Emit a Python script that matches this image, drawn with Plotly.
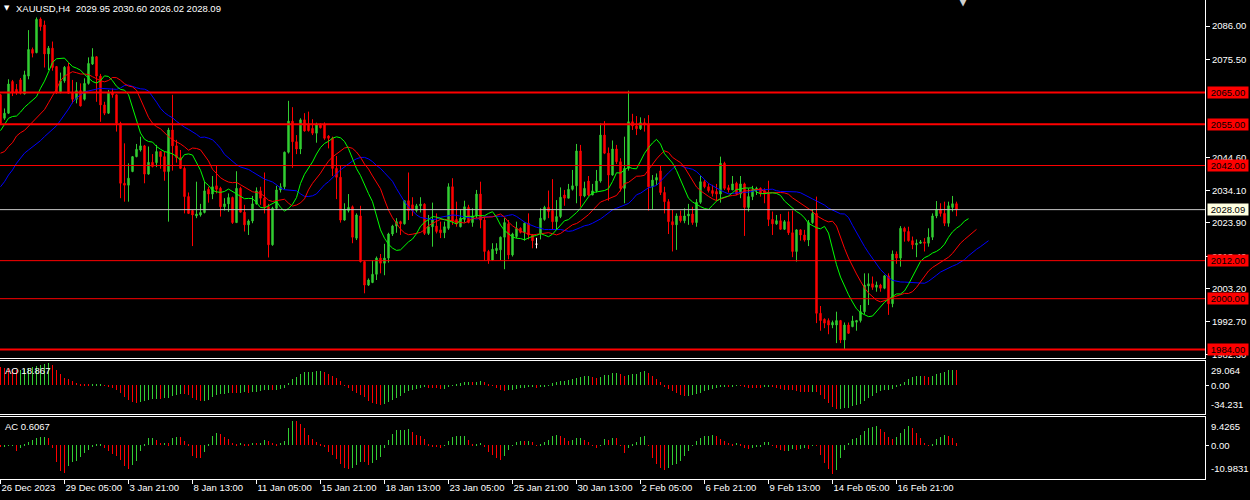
import numpy as np
import pandas as pd
import plotly.graph_objects as go

# ---------------- data ----------------
opens = [2064.3, 2056.9, 2058.5, 2068.5, 2066.0, 2069.0, 2064.6, 2070.2, 2078.6, 2077.6,
         2088.2, 2086.3, 2077.2, 2079.0, 2073.2, 2065.0, 2068.7, 2073.2, 2065.0, 2062.9,
         2065.6, 2062.9, 2067.9, 2074.0, 2076.3, 2070.2, 2061.1, 2058.5, 2065.0, 2064.3,
         2055.3, 2036.4, 2035.8, 2040.1, 2044.8, 2046.9, 2048.2, 2039.3, 2043.0, 2042.9,
         2046.4, 2044.8, 2040.1, 2053.2, 2048.2, 2044.5, 2041.1, 2032.2, 2027.8, 2026.1,
         2026.4, 2027.2, 2034.5, 2033.0, 2035.6, 2034.8, 2029.0, 2029.9, 2031.9, 2024.0,
         2034.8, 2027.3, 2023.3, 2024.5, 2029.9, 2034.0, 2031.7, 2029.0, 2017.0, 2028.5,
         2034.3, 2035.3, 2046.2, 2056.0, 2049.5, 2047.2, 2056.4, 2055.1, 2053.7, 2052.2,
         2055.0, 2054.8, 2051.3, 2050.6, 2041.1, 2038.3, 2024.8, 2027.8, 2029.0, 2019.1,
         2026.1, 2011.7, 2004.3, 2005.1, 2007.7, 2012.8, 2011.2, 2012.8, 2020.4, 2022.9,
         2024.3, 2023.6, 2030.9, 2029.6, 2027.8, 2029.3, 2029.8, 2020.6, 2022.7, 2022.9,
         2021.7, 2020.8, 2022.2, 2035.3, 2025.0, 2022.7, 2025.0, 2028.8, 2024.0, 2026.1,
         2033.0, 2024.8, 2014.9, 2012.2, 2015.2, 2015.4, 2019.4, 2023.6, 2013.8, 2019.6,
         2022.2, 2020.9, 2023.8, 2020.1, 2017.2, 2020.6, 2025.0, 2028.8, 2027.8, 2024.3,
         2025.9, 2032.7, 2031.7, 2034.5, 2035.6, 2046.6, 2032.4, 2037.1, 2032.7, 2034.0,
         2037.1, 2051.6, 2045.9, 2039.0, 2047.2, 2043.2, 2034.8, 2041.1, 2055.8, 2054.5,
         2053.6, 2055.5, 2054.8, 2035.3, 2037.4, 2040.3, 2033.5, 2030.6, 2024.3, 2023.3,
         2026.1, 2024.6, 2026.1, 2026.7, 2024.0, 2030.4, 2036.9, 2035.3, 2034.1, 2033.8,
         2033.0, 2042.7, 2035.0, 2034.3, 2036.4, 2033.0, 2036.2, 2028.8, 2032.2, 2034.3,
         2034.8, 2034.1, 2033.0, 2025.0, 2023.6, 2024.6, 2021.9, 2024.3, 2020.8, 2014.9,
         2021.7, 2020.1, 2018.5, 2024.0, 2026.9, 1995.4, 1993.5, 1993.1, 1991.7, 1991.7,
         1993.1, 1987.0, 1991.7, 1991.2, 1992.6, 1993.1, 1995.9, 2004.0, 2004.7, 2003.6,
         2004.3, 2003.3, 2007.2, 1998.4, 2014.1, 2012.8, 2022.2, 2021.2, 2018.3, 2017.0,
         2017.5, 2017.9, 2017.5, 2019.4, 2026.1, 2028.2, 2026.9, 2023.8, 2028.8, 2029.95]
highs = [2064.6, 2060.0, 2069.2, 2069.0, 2067.7, 2069.6, 2071.9, 2084.7, 2079.2, 2088.7,
         2088.7, 2087.7, 2079.7, 2081.1, 2073.4, 2071.3, 2073.4, 2074.4, 2069.0, 2068.3,
         2067.9, 2069.5, 2076.1, 2079.0, 2076.5, 2070.9, 2062.1, 2065.8, 2066.3, 2064.5,
         2055.8, 2049.0, 2042.7, 2045.0, 2048.8, 2051.1, 2048.5, 2048.0, 2045.6, 2048.5,
         2046.6, 2046.4, 2053.9, 2064.3, 2050.1, 2046.9, 2041.7, 2033.5, 2028.0, 2036.9,
         2029.9, 2036.9, 2035.3, 2038.7, 2041.9, 2035.3, 2031.7, 2033.2, 2032.2, 2040.2,
         2035.3, 2029.6, 2025.0, 2032.4, 2035.1, 2035.3, 2039.8, 2029.9, 2029.0, 2035.6,
         2036.4, 2046.4, 2062.4, 2060.4, 2051.6, 2056.9, 2058.5, 2059.0, 2056.6, 2055.5,
         2055.3, 2055.6, 2051.6, 2051.1, 2045.0, 2041.9, 2030.1, 2033.0, 2029.4, 2026.9,
         2029.3, 2011.9, 2006.4, 2012.2, 2013.3, 2014.1, 2017.3, 2020.8, 2023.3, 2025.4,
         2024.6, 2031.1, 2039.8, 2032.0, 2029.9, 2032.0, 2030.1, 2026.4, 2030.3, 2026.9,
         2024.3, 2024.3, 2036.4, 2038.0, 2030.6, 2028.2, 2030.9, 2029.6, 2028.5, 2034.3,
         2036.9, 2025.9, 2015.4, 2017.5, 2017.5, 2019.6, 2025.4, 2024.8, 2020.8, 2024.3,
         2022.5, 2024.0, 2026.9, 2020.4, 2019.2, 2028.5, 2029.3, 2034.1, 2037.7, 2031.1,
         2035.1, 2034.3, 2036.2, 2040.6, 2048.8, 2048.5, 2036.9, 2038.7, 2036.2, 2040.6,
         2055.3, 2056.0, 2047.7, 2049.9, 2048.5, 2044.3, 2051.1, 2065.6, 2058.3, 2057.6,
         2057.2, 2056.9, 2057.9, 2039.0, 2039.5, 2041.9, 2035.3, 2031.4, 2028.0, 2026.9,
         2027.8, 2028.5, 2029.9, 2029.0, 2031.4, 2039.0, 2037.4, 2036.4, 2035.9, 2036.2,
         2044.8, 2043.2, 2035.9, 2038.7, 2036.9, 2038.7, 2036.6, 2034.8, 2035.6, 2035.3,
         2035.1, 2034.8, 2037.2, 2027.5, 2026.4, 2026.7, 2024.8, 2027.5, 2027.8, 2021.9,
         2021.9, 2021.7, 2024.8, 2028.2, 2032.2, 1997.7, 1993.8, 1993.8, 1993.1, 1995.9,
         1993.3, 1992.5, 1992.5, 1994.6, 1993.3, 1998.0, 2008.0, 2008.0, 2007.0, 2005.4,
         2004.7, 2007.5, 2008.0, 2015.2, 2014.9, 2022.9, 2022.7, 2022.7, 2019.6, 2018.7,
         2018.5, 2019.1, 2022.2, 2026.9, 2030.8, 2030.1, 2030.6, 2030.6, 2032.4, 2030.60]
lows = [2054.8, 2056.4, 2058.3, 2063.9, 2064.3, 2064.4, 2064.4, 2069.2, 2076.1, 2077.4,
        2084.5, 2072.9, 2072.1, 2071.9, 2064.6, 2064.8, 2068.1, 2064.6, 2061.6, 2061.6,
        2060.6, 2062.5, 2067.5, 2073.7, 2062.1, 2055.8, 2057.9, 2058.3, 2063.4, 2052.7,
        2031.7, 2030.6, 2030.6, 2039.9, 2044.6, 2046.4, 2036.4, 2039.1, 2041.4, 2041.5,
        2041.0, 2037.2, 2024.3, 2040.4, 2042.9, 2040.9, 2026.9, 2026.7, 2016.6, 2025.4,
        2025.9, 2026.9, 2030.3, 2031.4, 2033.2, 2025.9, 2027.8, 2027.4, 2023.6, 2023.9,
        2027.2, 2021.2, 2020.1, 2023.8, 2029.7, 2029.6, 2026.9, 2013.0, 2016.7, 2028.0,
        2033.5, 2034.5, 2045.8, 2041.3, 2045.6, 2045.6, 2052.7, 2052.7, 2051.6, 2049.2,
        2053.7, 2050.1, 2047.4, 2038.7, 2031.4, 2024.0, 2024.6, 2027.2, 2017.5, 2018.5,
        2011.4, 2001.7, 2004.0, 2004.9, 2005.9, 2008.0, 2007.4, 2011.4, 2019.8, 2020.8,
        2020.1, 2023.4, 2024.8, 2026.1, 2027.2, 2027.2, 2020.1, 2020.1, 2016.4, 2020.6,
        2019.1, 2019.1, 2021.7, 2023.3, 2022.7, 2022.5, 2024.0, 2023.8, 2022.7, 2025.4,
        2022.2, 2012.0, 2011.0, 2012.0, 2014.1, 2012.2, 2009.3, 2012.4, 2013.3, 2019.1,
        2020.6, 2018.3, 2018.7, 2015.9, 2015.9, 2018.7, 2024.6, 2025.4, 2021.7, 2021.7,
        2025.4, 2029.3, 2031.7, 2034.1, 2030.1, 2029.0, 2032.0, 2032.4, 2032.7, 2033.5,
        2036.6, 2045.6, 2030.9, 2038.8, 2042.5, 2033.8, 2030.1, 2040.4, 2053.2, 2051.6,
        2053.2, 2052.7, 2027.8, 2028.2, 2035.9, 2032.7, 2026.9, 2020.4, 2014.9, 2015.4,
        2024.0, 2023.8, 2023.3, 2023.3, 2022.7, 2029.9, 2034.8, 2033.5, 2032.2, 2030.9,
        2030.3, 2034.3, 2033.5, 2034.3, 2032.7, 2031.7, 2019.8, 2027.5, 2031.1, 2032.7,
        2032.2, 2030.1, 2022.9, 2020.1, 2023.3, 2021.7, 2021.7, 2020.1, 2013.1, 2011.7,
        2018.3, 2018.0, 2016.6, 2023.6, 1992.3, 1989.9, 1990.7, 1988.8, 1990.7, 1986.0,
        1986.0, 1984.1, 1988.9, 1991.0, 1989.9, 1992.5, 1995.2, 1998.0, 2002.8, 2002.2,
        2002.2, 2003.0, 1994.9, 1997.3, 2011.0, 2010.1, 2018.0, 2018.0, 2015.6, 2013.1,
        2017.3, 2014.9, 2016.4, 2018.5, 2025.4, 2025.9, 2022.9, 2022.7, 2027.5, 2026.02]
closes = [2055.3, 2058.5, 2067.7, 2065.0, 2065.0, 2064.8, 2070.6, 2078.6, 2077.4, 2088.1,
          2085.8, 2077.2, 2079.0, 2072.9, 2065.0, 2068.7, 2073.0, 2064.8, 2062.9, 2065.6,
          2060.8, 2067.9, 2074.2, 2076.3, 2070.2, 2061.1, 2058.5, 2065.0, 2064.3, 2055.3,
          2036.4, 2035.8, 2038.0, 2044.8, 2047.1, 2048.2, 2039.3, 2043.0, 2041.7, 2046.4,
          2044.8, 2040.1, 2053.2, 2048.2, 2044.5, 2041.1, 2032.2, 2026.9, 2026.4, 2026.7,
          2027.2, 2034.0, 2033.0, 2035.3, 2034.5, 2029.0, 2029.9, 2031.9, 2024.0, 2034.8,
          2027.3, 2023.3, 2024.5, 2029.9, 2034.0, 2031.7, 2029.0, 2017.0, 2028.5, 2034.3,
          2035.3, 2046.2, 2056.0, 2049.5, 2047.2, 2056.4, 2052.9, 2053.0, 2052.2, 2054.8,
          2053.9, 2050.6, 2050.6, 2041.1, 2038.3, 2024.8, 2028.2, 2028.8, 2019.4, 2026.4,
          2011.7, 2004.3, 2005.9, 2007.7, 2012.8, 2011.2, 2012.8, 2020.4, 2022.9, 2024.3,
          2023.6, 2030.9, 2027.8, 2027.8, 2029.3, 2029.8, 2020.6, 2022.7, 2025.0, 2021.2,
          2020.8, 2022.7, 2035.3, 2024.5, 2023.6, 2025.4, 2029.0, 2024.0, 2026.1, 2033.0,
          2024.8, 2014.9, 2012.2, 2015.6, 2015.9, 2019.4, 2024.0, 2013.8, 2020.4, 2022.2,
          2020.9, 2023.8, 2020.1, 2018.3, 2017.2, 2025.4, 2028.8, 2027.5, 2024.3, 2025.9,
          2032.0, 2031.7, 2034.5, 2035.6, 2046.6, 2032.4, 2034.8, 2032.7, 2034.0, 2037.1,
          2051.6, 2045.9, 2039.0, 2047.2, 2043.2, 2034.8, 2041.1, 2055.8, 2054.5, 2053.6,
          2055.5, 2054.8, 2035.3, 2037.4, 2038.2, 2033.5, 2030.6, 2024.3, 2023.3, 2026.1,
          2024.6, 2026.1, 2026.7, 2024.0, 2030.4, 2036.9, 2035.3, 2034.1, 2033.2, 2033.0,
          2042.7, 2034.8, 2034.3, 2036.2, 2033.0, 2036.2, 2028.8, 2032.2, 2034.3, 2034.8,
          2033.2, 2033.0, 2025.0, 2023.6, 2024.6, 2021.9, 2024.3, 2020.8, 2014.9, 2021.7,
          2020.1, 2018.5, 2024.0, 2026.9, 1995.4, 1993.1, 1992.3, 1991.7, 1992.5, 1993.1,
          1987.0, 1991.7, 1989.1, 1993.0, 1993.1, 1995.9, 2004.3, 2004.7, 2003.6, 2004.3,
          2003.3, 2007.2, 1998.4, 2014.1, 2012.8, 2022.2, 2021.2, 2018.3, 2017.0, 2017.5,
          2017.9, 2017.5, 2019.4, 2026.1, 2028.2, 2026.9, 2023.8, 2029.3, 2029.95, 2028.09]

# Alligator line values visible before the first usable bar
lips_pre = [2053.0, 2054.8, 2056.9]
teeth_pre = [2045.9, 2046.4, 2048.0, 2049.2, 2051.3]
jaw_pre = [2035.3, 2036.9, 2039.0, 2040.6, 2042.7, 2044.3, 2045.9, 2046.9]

# Awesome / Accelerator oscillator values for the first bars
ao_pre = [24.0, 23.0, 22.0, 21.0, 20.0, 20.5, 21.2, 22.2, 23.5, 25.0,
          26.5, 28.0, 29.064, 26.0, 20.0, 14.3, 10.0, 8.3, 5.7, 2.6,
          1.3, 0.9, 0.4, 0.9, 1.3, 1.4, -0.2, -1.7, -3.9, -6.1,
          -9.6, -14.8, -19.1]
ac_pre = [-0.5, -0.3, -0.2, -0.1]

x_tick_bars = [0, 16, 32, 48, 64, 80, 96, 112, 128, 144, 160, 176, 192, 208, 224]
x_tick_labels = ["26 Dec 2023", "29 Dec 05:00", "3 Jan 21:00", "8 Jan 13:00",
                 "11 Jan 05:00", "15 Jan 21:00", "18 Jan 13:00", "23 Jan 05:00",
                 "25 Jan 21:00", "30 Jan 13:00", "2 Feb 05:00", "6 Feb 21:00",
                 "9 Feb 13:00", "14 Feb 05:00", "16 Feb 21:00"]
price_ticks = [2086.00, 2075.50, 2044.60, 2034.10, 2023.90, 2013.40, 2003.20, 1992.70, 1982.30]
level_prices = [2065.00, 2055.00, 2042.00, 2012.00, 2000.00, 1984.00]
bid_price = 2028.09
ao_scale = [29.064, 0.0, -34.231]
ao_scale_text = ["29.064", "0.00", "-34.231"]
ac_scale = [9.4265, 0.0, -10.9831]
ac_scale_text = ["9.4265", "0.00", "-10.9831"]
title_text = "XAUUSD,H4\u00a0 2029.95 2030.60 2026.02 2028.09"
ao_label = "AO 18.867"
ac_label = "AC 0.6067"

# ---------------- derived series ----------------
n = len(closes)
bars = np.arange(n)
o = np.array(opens); h = np.array(highs); l = np.array(lows); c = np.array(closes)
median = (h + l) / 2.0


def smma_line(pre, period):
    vals = list(pre)
    prev = pre[-1]
    for m in median:
        prev = (prev * (period - 1) + m) / period
        vals.append(prev)
    return np.arange(len(vals)), np.array(vals)


lips_x, lips_y = smma_line(lips_pre, 5)
teeth_x, teeth_y = smma_line(teeth_pre, 8)
jaw_x, jaw_y = smma_line(jaw_pre, 13)

med = pd.Series(median)
ao = (med.rolling(5).mean() - med.rolling(34).mean()).to_numpy()
ao[:len(ao_pre)] = ao_pre
ao_s = pd.Series(ao)
ac = (ao_s - ao_s.rolling(5).mean()).to_numpy()
ac[:len(ac_pre)] = ac_pre

GREEN = "#32CD32"
RED = "#FF0000"


def up_down_colors(v):
    cols = [RED]
    for i in range(1, len(v)):
        cols.append(GREEN if v[i] > v[i - 1] else RED)
    return cols


ao_col = up_down_colors(ao)
ac_col = up_down_colors(ac)

doji = [i for i in range(n) if o[i] == c[i]]

# ---------------- figure ----------------
FONT = "Liberation Sans"
TXT = "#FFFFFF"
fig = go.Figure()

fig.add_trace(go.Candlestick(
    x=bars, open=o, high=h, low=l, close=c, xaxis="x", yaxis="y",
    increasing=dict(line=dict(color=GREEN, width=1), fillcolor=GREEN),
    decreasing=dict(line=dict(color=RED, width=1), fillcolor=RED),
    whiskerwidth=0, showlegend=False, hoverinfo="skip"))
if doji:
    fig.add_trace(go.Candlestick(
        x=bars[doji], open=o[doji], high=h[doji], low=l[doji], close=c[doji],
        xaxis="x", yaxis="y",
        increasing=dict(line=dict(color="#FFFFFF", width=1), fillcolor="#FFFFFF"),
        decreasing=dict(line=dict(color="#FFFFFF", width=1), fillcolor="#FFFFFF"),
        whiskerwidth=0, showlegend=False, hoverinfo="skip"))

for xs, ys, col in [(jaw_x, jaw_y, "#0000FF"), (teeth_x, teeth_y, "#FF0000"),
                    (lips_x, lips_y, "#00FF00")]:
    fig.add_trace(go.Scatter(x=xs, y=ys, mode="lines", line=dict(color=col, width=1),
                             xaxis="x", yaxis="y", showlegend=False, hoverinfo="skip"))

fig.add_trace(go.Bar(x=bars, y=ao, marker=dict(color=ao_col, line=dict(width=0)), width=0.25,
                     xaxis="x2", yaxis="y2", showlegend=False, hoverinfo="skip"))
fig.add_trace(go.Bar(x=bars, y=ac, marker=dict(color=ac_col, line=dict(width=0)), width=0.25,
                     xaxis="x3", yaxis="y3", showlegend=False, hoverinfo="skip"))

H_PLOT = 479.0
xr = [-0.125, 301.125]
common_x = dict(range=xr, showgrid=False, zeroline=False, linecolor="#FFFFFF", linewidth=1,
                fixedrange=True)
fig.update_layout(
    width=1250, height=500, autosize=False,
    margin=dict(l=0, r=45, t=0, b=21, pad=0, autoexpand=False),
    paper_bgcolor="#000000", plot_bgcolor="#000000",
    font=dict(family=FONT, size=9.5, color=TXT),
    showlegend=False, bargap=0, boxgap=0.5,
    xaxis=dict(domain=[0, 1], anchor="y", showline=True, showticklabels=False, ticks="",
               rangeslider=dict(visible=False), **common_x),
    xaxis2=dict(domain=[0, 1], anchor="y2", matches="x", showline=True, mirror=True,
                showticklabels=False, ticks="", **common_x),
    xaxis3=dict(domain=[0, 1], anchor="y3", matches="x", showline=True, mirror=True,
                ticks="outside", ticklen=4, tickcolor="#FFFFFF", tickwidth=1,
                tickvals=x_tick_bars, ticktext=x_tick_labels, tickangle=0,
                ticklabelposition="outside right",
                tickfont=dict(family=FONT, size=9.5, color=TXT), **common_x),
    yaxis=dict(domain=[1 - 358 / H_PLOT, 1], anchor="x", side="right",
               range=[1981.3, 2094.2], showgrid=False, zeroline=False,
               showline=True, linecolor="#FFFFFF", linewidth=1,
               ticks="outside", ticklen=4, tickcolor="#FFFFFF",
               tickvals=price_ticks, ticktext=[f"{p:.2f}" for p in price_ticks],
               tickfont=dict(family=FONT, size=9.5, color=TXT), fixedrange=True),
    yaxis2=dict(domain=[1 - 414 / H_PLOT, 1 - 361 / H_PLOT], anchor="x2", side="right",
                range=[-37.5, 31.67], showgrid=False, zeroline=False,
                showline=True, linecolor="#FFFFFF", linewidth=1,
                ticks="outside", ticklen=3, tickcolor="#FFFFFF",
                tickvals=[0.0], showticklabels=False, fixedrange=True),
    yaxis3=dict(domain=[0, 1 - 417 / H_PLOT], anchor="x3", side="right",
                range=[-12.06, 10.14], showgrid=False, zeroline=False,
                showline=True, linecolor="#FFFFFF", linewidth=1,
                ticks="outside", ticklen=3, tickcolor="#FFFFFF",
                tickvals=[0.0], showticklabels=False, fixedrange=True),
)

shapes = []
level_widths = [2, 2, 1, 1, 1, 2]
for p, w in zip(level_prices, level_widths):
    shapes.append(dict(type="line", xref="paper", x0=0, x1=1, yref="y", y0=p, y1=p,
                       line=dict(color=RED, width=w), layer="above"))
shapes.append(dict(type="line", xref="paper", x0=0, x1=1, yref="y", y0=bid_price, y1=bid_price,
                   line=dict(color="#C8C8C8", width=1), layer="above"))
fig.update_layout(shapes=shapes)

ann = []
for p in level_prices:
    ann.append(dict(text=f"{p:.2f}", xref="paper", x=1, xanchor="left", xshift=2,
                    yref="y", y=p, yanchor="middle", showarrow=False,
                    bgcolor=RED, font=dict(family=FONT, size=9.5, color="#000000"),
                    width=40, height=11, borderpad=0))
ann.append(dict(text=f"{bid_price:.2f}", xref="paper", x=1, xanchor="left", xshift=2,
                yref="y", y=bid_price, yanchor="middle", showarrow=False,
                bgcolor="#FFFFE0", font=dict(family=FONT, size=9.5, color="#000000"),
                width=40, height=11, borderpad=0))
for axis, vals, texts in [("y2", ao_scale, ao_scale_text), ("y3", ac_scale, ac_scale_text)]:
    anchors = ["top", "middle", "bottom"]
    for v, t, a in zip(vals, texts, anchors):
        ann.append(dict(text=t, xref="paper", x=1, xanchor="left", xshift=4,
                        yref=axis, y=v, yanchor=a, showarrow=False,
                        font=dict(family=FONT, size=9.5, color=TXT)))
ann.append(dict(text=title_text, xref="paper", x=0, xanchor="left", xshift=14,
                yref="paper", y=1, yanchor="top", yshift=-1, showarrow=False,
                font=dict(family=FONT, size=9.5, color=TXT)))
ann.append(dict(text="\u25bc", xref="paper", x=0, xanchor="left", xshift=2,
                yref="paper", y=1, yanchor="top", yshift=-2, showarrow=False,
                font=dict(family="DejaVu Sans", size=7, color=TXT)))
ann.append(dict(text="\u25bc", xref="x", x=240.5, xanchor="center",
                yref="paper", y=1, yanchor="middle", yshift=0, showarrow=False,
                font=dict(family="DejaVu Sans", size=13, color="#D0D0D0")))
ann.append(dict(text=ao_label, xref="paper", x=0, xanchor="left", xshift=3,
                yref="y2 domain", y=1, yanchor="top", yshift=-2, showarrow=False,
                font=dict(family=FONT, size=9.5, color=TXT)))
ann.append(dict(text=ac_label, xref="paper", x=0, xanchor="left", xshift=3,
                yref="y3 domain", y=1, yanchor="top", yshift=-2, showarrow=False,
                font=dict(family=FONT, size=9.5, color=TXT)))
fig.update_layout(annotations=ann)

fig.write_html("out.html", config=dict(displayModeBar=False),
               post_script="document.body.style.margin='0px';"
                           "document.body.style.overflow='hidden';")
